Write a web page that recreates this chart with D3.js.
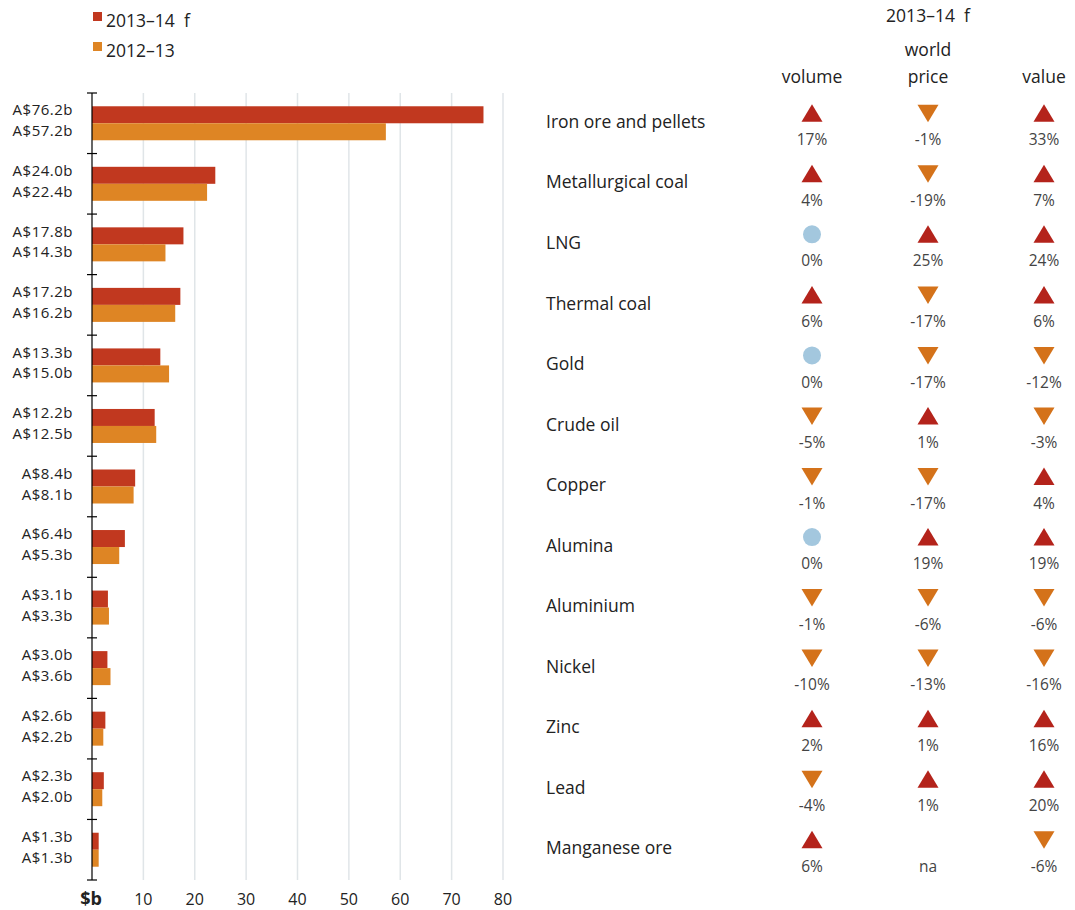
<!DOCTYPE html>
<html><head><meta charset="utf-8">
<script src="https://cdn.jsdelivr.net/npm/d3@7"></script>
<style>body{margin:0;background:#fff;} text{font-family:"Open Sans","Noto Sans",sans-serif; white-space:pre;}</style>
</head><body>
<svg id="c" width="1075" height="910"></svg>
<script>
const categories = ["Iron ore and pellets","Metallurgical coal","LNG","Thermal coal","Gold","Crude oil","Copper","Alumina","Aluminium","Nickel","Zinc","Lead","Manganese ore"];
const values2013_14 = [76.2,24.0,17.8,17.2,13.3,12.2,8.4,6.4,3.1,3.0,2.6,2.3,1.3];
const values2012_13 = [57.2,22.4,14.3,16.2,15.0,12.5,8.1,5.3,3.3,3.6,2.2,2.0,1.3];
const volumeChange = [17,4,0,6,0,-5,-1,0,-1,-10,2,-4,6];
const priceChange = [-1,-19,25,-17,-17,1,-17,19,-6,-13,1,1,null];
const valueChange = [33,7,24,6,-12,-3,4,19,-6,-16,16,20,-6];
const xTicks = [10,20,30,40,50,60,70,80];
const seriesNames = ["2013–14  f","2012–13"];
const colNames = ["volume","price","value"];

const C_RED="#C1381F", C_OR="#DE8524", T_RED="#B4231B", T_OR="#D4721A", C_BLUE="#A3C7DE";
const svg = d3.select("#c");
const x = d3.scaleLinear().domain([0,80]).range([92,503]);
const y = d3.scaleBand().domain(categories).range([93,880]);
const bh = 17;

// gridlines
svg.append("g").selectAll("line").data(xTicks).join("line")
  .attr("x1",d=>x(d)).attr("x2",d=>x(d)).attr("y1",93).attr("y2",880)
  .attr("stroke","#e0e5e8").attr("stroke-width",1.5);

// bars
const g = svg.append("g");
g.selectAll("rect.a").data(categories).join("rect")
  .attr("x",x(0)).attr("y",(d)=>y(d)+y.bandwidth()/2-bh)
  .attr("width",(d,i)=>x(values2013_14[i])-x(0)).attr("height",bh).attr("fill",C_RED);
g.selectAll("rect.b").data(categories).join("rect")
  .attr("x",x(0)).attr("y",(d)=>y(d)+y.bandwidth()/2)
  .attr("width",(d,i)=>x(values2012_13[i])-x(0)).attr("height",bh).attr("fill",C_OR);

// value labels
const lab = svg.append("g").attr("font-size",15).attr("letter-spacing",0.5).attr("fill","#222").attr("text-anchor","end");
categories.forEach((c,i)=>{
  const cy=y(c)+y.bandwidth()/2;
  lab.append("text").attr("x",73).attr("y",cy-11.8).attr("dominant-baseline","middle").text("A$"+values2013_14[i].toFixed(1)+"b");
  lab.append("text").attr("x",73).attr("y",cy+9).attr("dominant-baseline","middle").text("A$"+values2012_13[i].toFixed(1)+"b");
});

// y axis line and ticks
svg.append("line").attr("x1",92).attr("x2",92).attr("y1",93).attr("y2",880).attr("stroke","#000").attr("stroke-width",1.2);
const bounds = categories.map(c=>y(c)).concat([880]);
svg.append("g").selectAll("line").data(bounds).join("line")
  .attr("x1",87).attr("x2",97).attr("y1",d=>d).attr("y2",d=>d).attr("stroke","#000").attr("stroke-width",1.2);

// x tick labels
const xl = svg.append("g").attr("font-size",16).attr("fill","#222").attr("text-anchor","middle");
xTicks.forEach(t=>xl.append("text").attr("x",x(t)).attr("y",905).text(t));
xl.append("text").attr("x",x(0)-1).attr("y",905).attr("font-weight","bold").attr("font-size",18).text("$b");

// legend
const lg = svg.append("g");
[C_RED,C_OR].forEach((col,i)=>{
  lg.append("rect").attr("x",93).attr("y",12+i*30).attr("width",9).attr("height",9).attr("fill",col);
  lg.append("text").attr("x",106).attr("y",27+i*30).attr("font-size",17.5).attr("fill","#222").text(seriesNames[i]);
});

// table header
const cols = [812,928,1044];
const hd = svg.append("g").attr("font-size",17.5).attr("fill","#222").attr("text-anchor","middle");
hd.append("text").attr("x",cols[1]).attr("y",22).text("2013–14  f");
hd.append("text").attr("x",cols[1]).attr("y",56).text("world");
colNames.forEach((n,i)=>hd.append("text").attr("x",cols[i]).attr("y",83).text(n));

// table rows
const tb = svg.append("g");
const sym = (gg,cx,cy,v)=>{
  if(v===null) return;
  if(v>0) gg.append("path").attr("d",`M${cx-10.5},${cy+8.5}L${cx+10.5},${cy+8.5}L${cx},${cy-9}Z`).attr("fill",T_RED);
  else if(v<0) gg.append("path").attr("d",`M${cx-10.5},${cy-8.5}L${cx+10.5},${cy-8.5}L${cx},${cy+9}Z`).attr("fill",T_OR);
  else gg.append("circle").attr("cx",cx).attr("cy",cy).attr("r",9).attr("fill",C_BLUE);
};
categories.forEach((c,i)=>{
  const cy=y(c)+y.bandwidth()/2;
  tb.append("text").attr("x",546).attr("y",cy).attr("dominant-baseline","middle").attr("font-size",17.5).attr("fill","#222").text(c);
  [volumeChange[i],priceChange[i],valueChange[i]].forEach((v,j)=>{
    sym(tb,cols[j],cy-10,v);
    tb.append("text").attr("x",cols[j]).attr("y",cy+18).attr("dominant-baseline","middle").attr("text-anchor","middle")
      .attr("font-size",15.5).attr("fill","#444").text(v===null?"na":v+"%");
  });
});
</script>
</body></html>
